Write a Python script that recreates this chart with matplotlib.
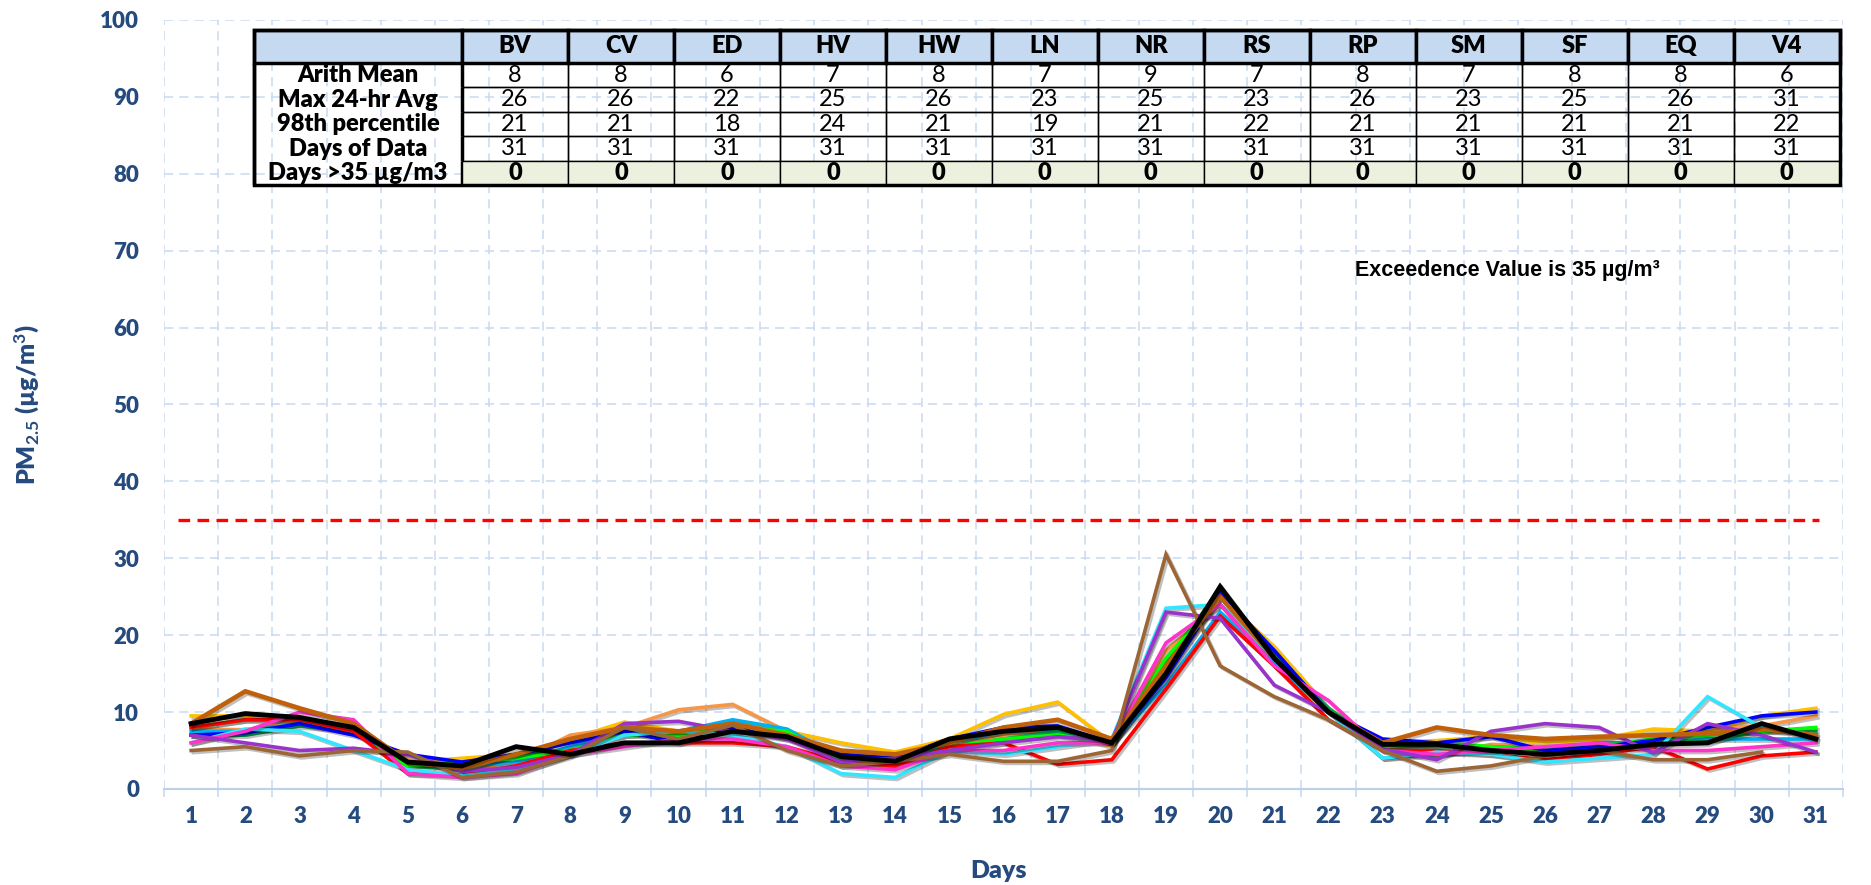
import numpy as np
import matplotlib.pyplot as plt
import matplotlib.patheffects as pe
from matplotlib.patches import Rectangle

plt.rcParams['font.family'] = ['Lato', 'DejaVu Sans']
plt.rcParams['mathtext.fontset'] = 'custom'
plt.rcParams['mathtext.rm'] = 'Lato:bold'
plt.rcParams['mathtext.it'] = 'Lato:bold'
plt.rcParams['mathtext.bf'] = 'Lato:bold'

# days of the month
days = np.arange(1, 32)
nan = np.nan

# daily PM2.5 per monitor (named by line colour, no legend in the chart)
pm_gold = [9.5, 9.5, 9, 8, 3.5, 4, 4.5, 6.5, 8.7, 7.5, 8.7, 7.5, 6, 4.8, 6.5, 9.7, 11.3, 6, 15, 25, 18.5, 10.5, 6, 6.3, 6.8, 6, 6.5, 7.8, 7.5, 9.5, 10.5]
pm_ltorange = [7.8, 7.7, 8.8, 7.8, 3.8, 2.5, 3.5, 7, 8, 10.3, 11, 7.5, 4.5, 4, 5.5, 7, 7.5, 5.5, 18, 24, 16, 10, 5.5, 4.3, 5.8, 5.5, 5.5, 5.8, 8, 8.2, 9.5]
pm_skyblue = [7.5, 7.5, 8.5, 7.5, 3.5, 3, 3.5, 5.5, 7.5, 7.5, 9, 7.8, 4, 4, 6, 7.5, 7.8, 6, 13.5, 23, 16.5, 10, 4, 4.5, 5.5, 5, 5, 6, 6.5, 6.5, 6.5]
pm_dkgreen = [7, 7, 8.2, 7.5, 3, 2.5, 4.5, 5, 7.5, 7, 8.5, 7, 4, 3.7, 5.5, 6.5, 7.5, 6, 16.5, 26, 17.5, 10.5, 5.5, 5.5, 5.5, 5.2, 6, 6, 6.2, 7.5, 7.5]
pm_lime = [8, 9, 9, 7.5, 3, 3.5, 4, 5, 7, 7, 8, 7.5, 3.5, 3, 5.5, 6.5, 7, 6, 17, 25, 17, 10, 5.5, 6, 5.5, 5, 5.5, 6.5, 7, 7.5, 8]
pm_blue = [7, 7.3, 8.5, 7, 4.5, 3.5, 4.5, 6, 7.5, 6, 8, 6.5, 4.5, 4, 6.5, 8, 8.2, 6, 14.5, 25.5, 18, 10, 6.5, 6, 6.8, 5, 5.5, 6.3, 8, 9.5, 10]
pm_red = [8, 9, 9, 7.5, 2, 1.8, 3, 5, 6, 6, 6, 5.5, 3.5, 3, 5.5, 6, 3.2, 3.8, 13, 22.5, 16, 9, 5, 5, 4.5, 3.8, 4.5, 5.5, 2.6, 4.3, 4.8]
pm_cyan = [6, 7.8, 7.5, 5, 2.5, 1.7, 2.5, 4.5, 7, 7.5, 7, 5.5, 2, 1.5, 5, 4.5, 5.5, 6.5, 23.5, 24, 17, 10, 4, 4.8, 4.5, 3.5, 4, 4.5, 12, 8, 7]
pm_pink = [6, 7.5, 10, 9, 2, 1.5, 2, 4.5, 5.5, 6.5, 6.5, 5.5, 3, 2.5, 5, 5, 6, 6, 19, 24, 16, 11.5, 5, 4.5, 5, 5.5, 6, 5, 5, 5.5, 6]
pm_purple = [7, 6, 5, 5.3, 4.5, 2.3, 2.8, 4.5, 8.5, 8.8, 7.5, 6.5, 3.5, 4, 5, 6, 6.8, 6.3, 23, 22.2, 13.5, 10, 5.2, 3.8, 7.5, 8.5, 8, 4.7, 8.5, 7, 4.8]
pm_rust = [8.5, 12.7, 10.5, 8.5, 3.5, 2.7, 4.5, 6.5, 8, 7.5, 8.5, 7, 5, 4.5, 6, 8, 9, 6.5, 16, 25, 17, 10, 6, 8, 7, 6.5, 6.8, 7, 7.2, 7.8, 7]
pm_tan = [5, 5.5, 4.3, 5, 4.8, 1.5, 2.2, 4.3, 8, 6.5, 8.3, 5, 3, 3.6, 4.5, 3.6, 3.6, 5, 30.5, 16, 12, 9, 5, 2.3, 3, 4.3, 5, 3.8, 3.8, 4.8, nan]
pm_black = [8.5, 9.8, 9.3, 8, 3.5, 3, 5.5, 4.5, 6, 6, 7.5, 6.8, 4.2, 3.6, 6.5, 7.5, 8, 6, 15, 26.3, 17, 10, 5.8, 5.8, 5, 4.5, 5, 5.8, 6, 8.5, 6.5]

exceedence = 35

# summary table
stations = ['BV', 'CV', 'ED', 'HV', 'HW', 'LN', 'NR', 'RS', 'RP', 'SM', 'SF', 'EQ', 'V4']
row_labels = ['Arith Mean', 'Max 24-hr Avg', '98th percentile', 'Days of Data', 'Days >35 µg/m3']
arith_mean = [8, 8, 6, 7, 8, 7, 9, 7, 8, 7, 8, 8, 6]
max_24hr = [26, 26, 22, 25, 26, 23, 25, 23, 26, 23, 25, 26, 31]
pct_98 = [21, 21, 18, 24, 21, 19, 21, 22, 21, 21, 21, 21, 22]
days_data = [31] * 13
days_over = [0] * 13

navy = '#254A7E'
gridc = '#C9DAF0'

fig = plt.figure(figsize=(18.71, 8.85), dpi=100)
ax = fig.add_axes([0.0877, 0.1085, 0.8973, 0.869])

lines = [
    (pm_gold, '#FFC000', 2.6),
    (pm_ltorange, '#F79646', 2.6),
    (pm_skyblue, '#00B0F0', 2.6),
    (pm_dkgreen, '#00A651', 2.6),
    (pm_lime, '#00FF00', 2.6),
    (pm_blue, '#0000FF', 2.6),
    (pm_red, '#FF0000', 2.6),
    (pm_cyan, '#33E6FF', 2.6),
    (pm_pink, '#FF33CC', 2.6),
    (pm_purple, '#9933CC', 2.6),
    (pm_rust, '#C0600A', 3.3),
    (pm_tan, '#9C6634', 2.6),
    (pm_black, '#000000', 3.5),
]
shadow = [pe.SimpleLineShadow(offset=(1.5, -1.5), alpha=0.25), pe.Normal()]
for i, (vals, col, lw) in enumerate(lines):
    ax.plot(days, vals, color=col, lw=lw, zorder=3 + i * 0.01, path_effects=shadow,
            solid_joinstyle='miter')

ax.plot([0.75, 31.05], [exceedence, exceedence], color='#FF0000', lw=2.4,
        dashes=(3.5, 2.2), zorder=3)
ax.text(25.3, 67.4, 'Exceedence Value is 35 µg/m³', ha='center', va='center',
        fontsize=15.5, fontweight='bold', family=['Liberation Sans', 'DejaVu Sans'])

ax.set_xlim(0.5, 31.5)
ax.set_ylim(0, 100)
ax.set_xticks(days)
ax.set_xticks(np.arange(0.5, 32, 1), minor=True)
ax.set_yticks(np.arange(0, 101, 10))
ax.tick_params(axis='x', which='major', length=0, pad=12)
ax.tick_params(axis='x', which='minor', length=6, color=gridc, width=1.2)
ax.tick_params(axis='y', length=0, pad=18)
for lab in ax.get_xticklabels() + ax.get_yticklabels():
    lab.set_fontsize(16)
    lab.set_fontweight('heavy')
    lab.set_color(navy)
ax.grid(True, axis='y', which='major', color=gridc, ls=(0, (6, 4)), lw=1.1)
ax.grid(True, axis='x', which='minor', color=gridc, ls=(0, (6, 4)), lw=1.1)
for s in ['top', 'right', 'left']:
    ax.spines[s].set_visible(False)
ax.spines['bottom'].set_color('#BCD0EA')
ax.spines['bottom'].set_linewidth(1.5)
ax.set_axisbelow(True)

ax.set_xlabel('Days', fontsize=18, fontweight='heavy', color=navy)
ax.set_ylabel('PM$_{2.5}$ (µg/m$^3$)', fontsize=18, fontweight='heavy', color=navy)
ax.xaxis.set_label_coords(0.497, -0.107)
ax.yaxis.set_label_coords(-0.082, 0.5)
ax.xaxis.label.set_va('center')
ax.yaxis.label.set_va('center')

# table
cell_text = [[''] + stations]
for lab, vals in zip(row_labels, [arith_mean, max_24hr, pct_98, days_data, days_over]):
    cell_text.append([lab] + [str(v) for v in vals])

tb_box = [0.0536, 0.785, 0.9444, 0.202]
tb = ax.table(cellText=cell_text, colWidths=[208] + [106] * 13, bbox=tb_box,
              cellLoc='center')
tb.auto_set_font_size(False)
hdr_blue = '#C5D9F1'
last_green = '#EBF1DE'
nrows = len(cell_text)
for (r, c), cell in tb.get_celld().items():
    cell.set_height(33 if r == 0 else 24.4)
    txt = cell.get_text()
    txt.set_fontsize(17)
    if r == 0:
        cell.set_facecolor(hdr_blue)
        cell.set_linewidth(2.5)
        txt.set_fontweight('heavy')
    elif c == 0:
        cell.set_facecolor(hdr_blue)
        cell.visible_edges = 'LR'
        cell.set_linewidth(2.5)
        txt.set_fontweight('heavy')
    else:
        cell.set_linewidth(1.0)
        if r == nrows - 1:
            cell.set_facecolor(last_green)
            txt.set_fontweight('heavy')
        else:
            cell.set_facecolor('none')
    cell.set_edgecolor('black')
tb.set_zorder(5)
ax.add_patch(Rectangle((tb_box[0], tb_box[1]), tb_box[2], tb_box[3], transform=ax.transAxes,
                       fill=False, lw=2.5, ec='black', zorder=6, clip_on=False))

fig.savefig('out.png', dpi=100)
